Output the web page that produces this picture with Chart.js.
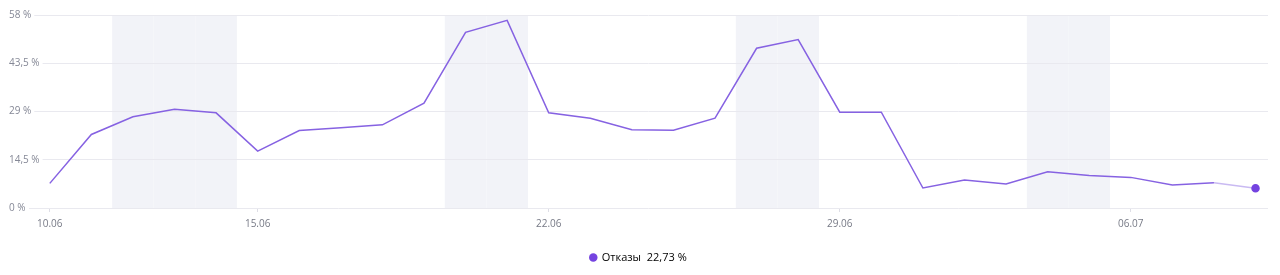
<!DOCTYPE html>
<html>
<head>
<meta charset="utf-8">
<script src="https://cdn.jsdelivr.net/npm/chart.js@4"></script>
<style>
  html, body { margin: 0; padding: 0; background: #fff; }
  #wrap { width: 1280px; height: 275px; }
</style>
</head>
<body>
<div id="wrap"><canvas id="bounceChart"></canvas></div>
<script>
// dates (dd.mm) and bounce rate, %
let dates = ["10.06", "11.06", "12.06", "13.06", "14.06", "15.06", "16.06", "17.06", "18.06", "19.06",
    "20.06", "21.06", "22.06", "23.06", "24.06", "25.06", "26.06", "27.06", "28.06", "29.06",
    "30.06", "01.07", "02.07", "03.07", "04.07", "05.07", "06.07", "07.07", "08.07", "09.07"];
let bounces = [7.4, 22.1, 27.4, 29.7, 28.6, 17.1, 23.3, 24.1, 25.0, 31.5,
    52.8, 56.4, 28.6, 27.0, 23.5, 23.4, 27.0, 48.0, 50.6, 28.8,
    28.8, 6.0, 8.4, 7.2, 10.9, 9.8, 9.2, 6.9, 7.6, 5.9];
let tickDates = ["10.06", "15.06", "22.06", "29.06", "06.07"];
let shadedDays = ["12.06", "13.06", "14.06", "20.06", "21.06", "27.06", "28.06", "04.07", "05.07"];
let yTicks = [0, 14.5, 29, 43.5, 58];
let legendText = "Отказы  22,73 %";

const last = bounces.length - 1;

// grey bands behind weekends / holidays
const bands = {
    id: "bands",
    beforeDraw(chart) {
        const ctx = chart.ctx;
        const x = chart.scales.x;
        const area = chart.chartArea;
        ctx.save();
        ctx.fillStyle = "#f2f3f8";
        shadedDays.forEach((d) => {
            const i = dates.indexOf(d);
            const x0 = x.getPixelForValue(i - 0.5);
            const x1 = x.getPixelForValue(i + 0.5);
            ctx.fillRect(x0, area.top, x1 - x0, area.bottom - area.top);
        });
        ctx.restore();
    }
};

new Chart(document.getElementById("bounceChart"), {
    type: "line",
    data: {
        datasets: [
            {
                label: "Отказы",
                data: bounces.map((v, i) => ({x: i, y: v})),
                borderColor: "#8662e2",
                borderWidth: 1.5,
                tension: 0,
                pointRadius: bounces.map((v, i) => (i === last ? 3.5 : 0)),
                pointHoverRadius: 0,
                pointBackgroundColor: "#7443e0",
                pointBorderColor: "#7443e0",
                segment: {
                    borderColor: (c) => (c.p1DataIndex === last ? "#c9baf2" : undefined)
                }
            }
        ]
    },
    plugins: [bands],
    options: {
        responsive: true,
        maintainAspectRatio: false,
        animation: false,
        layout: {padding: {left: 9, right: 12, top: 15, bottom: 2}},
        scales: {
            x: {
                type: "linear",
                min: -0.5,
                max: 29.3,
                afterBuildTicks: (axis) => {
                    axis.ticks = tickDates.map((d) => ({value: dates.indexOf(d)}));
                },
                afterFit: (axis) => {
                    axis.height = 34;
                },
                grid: {
                    drawOnChartArea: false,
                    tickLength: 4,
                    color: "#dedee6"
                },
                border: {display: false},
                ticks: {
                    autoSkip: false,
                    maxRotation: 0,
                    padding: 6,
                    color: "#777a86",
                    font: {family: "Open Sans", size: 10},
                    callback: (v) => dates[v]
                }
            },
            y: {
                min: 0,
                max: 58,
                afterBuildTicks: (axis) => {
                    axis.ticks = yTicks.map((v) => ({value: v}));
                },
                afterFit: (axis) => {
                    axis.width = 20;
                },
                grid: {color: "#e9e9ef", drawTicks: false},
                border: {display: false},
                ticks: {
                    mirror: true,
                    crossAlign: "near",
                    padding: -20,
                    color: "#858896",
                    font: {family: "Open Sans", size: 10},
                    showLabelBackdrop: true,
                    backdropColor: "#ffffff",
                    backdropPadding: {left: 0, right: 3, top: 0, bottom: 0},
                    callback: (v) => String(v).replace(".", ",") + " %"
                }
            }
        },
        plugins: {
            tooltip: {enabled: false},
            legend: {
                position: "bottom",
                labels: {
                    usePointStyle: true,
                    boxWidth: 6,
                    boxHeight: 6,
                    padding: 10,
                    color: "#555866",
                    font: {family: "Open Sans", size: 11},
                    generateLabels: () => [{
                        text: legendText,
                        fillStyle: "#7443e0",
                        strokeStyle: "#7443e0",
                        lineWidth: 0,
                        pointStyle: "circle",
                        datasetIndex: 0
                    }]
                }
            }
        }
    }
});
</script>
</body>
</html>
